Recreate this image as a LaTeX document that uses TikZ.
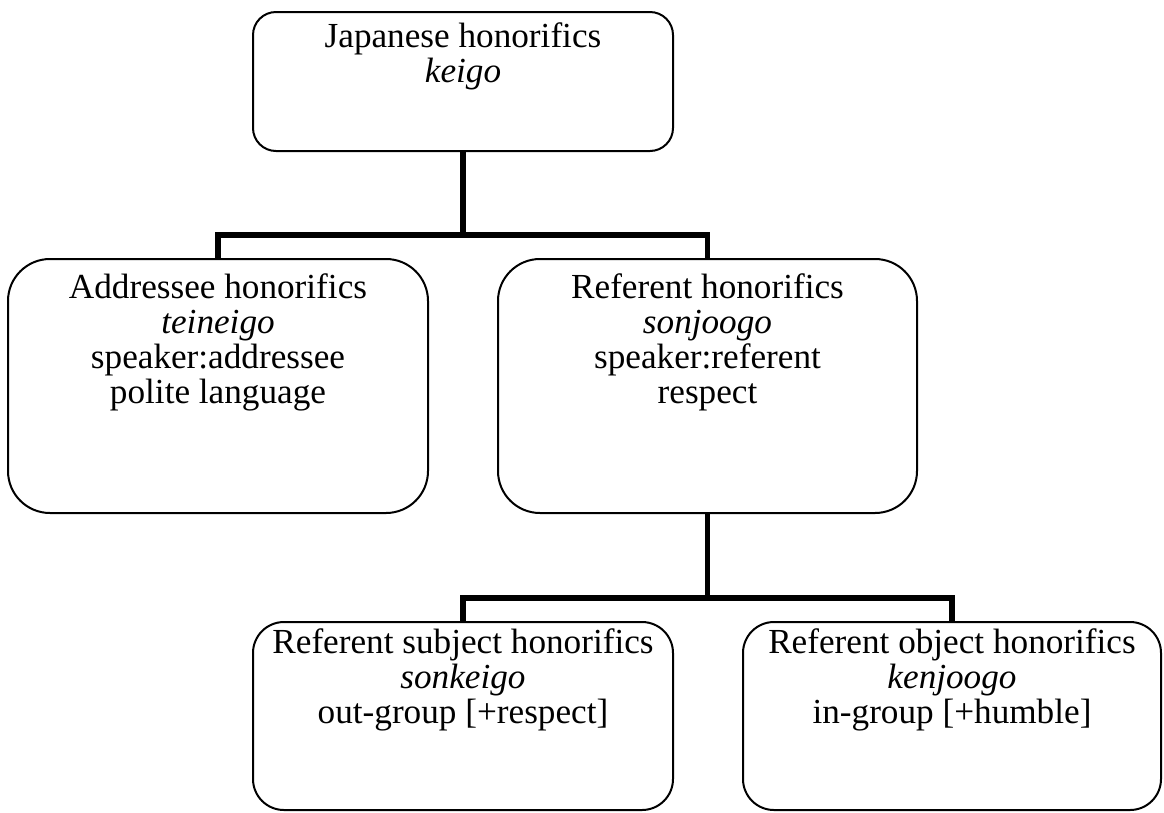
\documentclass[tikz,border=0pt]{standalone}
\usepackage{fontspec}
\setmainfont{Liberation Serif}
\usetikzlibrary{calc}
\begin{document}
\begin{tikzpicture}[x=1pt,y=-1pt,
  box/.style={draw, line width=2pt, minimum width=420pt, inner sep=0pt, outer sep=0pt},
  lbl/.style={anchor=north, align=center, inner sep=0pt, font=\fontsize{35.2}{35}\selectfont},
  conn/.style={line width=5.5pt}]
\useasboundingbox[fill=white] (0,0) rectangle (1164,812);
% boxes
\node[box, minimum height=139pt, rounded corners=23pt] (top) at (463,81.5) {};
\node[box, minimum height=254pt, rounded corners=42pt] (addr) at (218,386) {};
\node[box, minimum width=419pt, minimum height=254pt, rounded corners=42pt] (ref) at (707.5,386) {};
\node[box, minimum height=188pt, rounded corners=31pt] (subj) at (463,716) {};
\node[box, minimum width=418pt, minimum height=188pt, rounded corners=31pt] (obj) at (952,716) {};
% labels
\node[lbl] (ttop) at (463,23) {Japanese honorifics\\\textit{keigo}};
\node[lbl] (taddr) at (218,274) {Addressee honorifics\\\textit{teineigo}\\speaker:addressee\\polite language};
\node[lbl] (tref) at (707.5,274) {Referent honorifics\\\textit{sonjoogo}\\speaker:referent\\respect};
\node[lbl] (tsubj) at (463,629) {Referent subject honorifics\\\textit{sonkeigo}\\out-group [+respect]};
\node[lbl] (tobj) at (952,629) {Referent object honorifics\\\textit{kenjoogo}\\in-group [+humble]};
% connectors
\coordinate (j1) at (463,235);
\coordinate (j2) at (707.5,598);
\draw[conn] (top.south) -- (j1);
\draw[conn] (addr.north) |- (j1) -| (ref.north);
\draw[conn] (ref.south) -- (j2);
\draw[conn] (subj.north) |- (j2) -| (obj.north);
\end{tikzpicture}
\end{document}
